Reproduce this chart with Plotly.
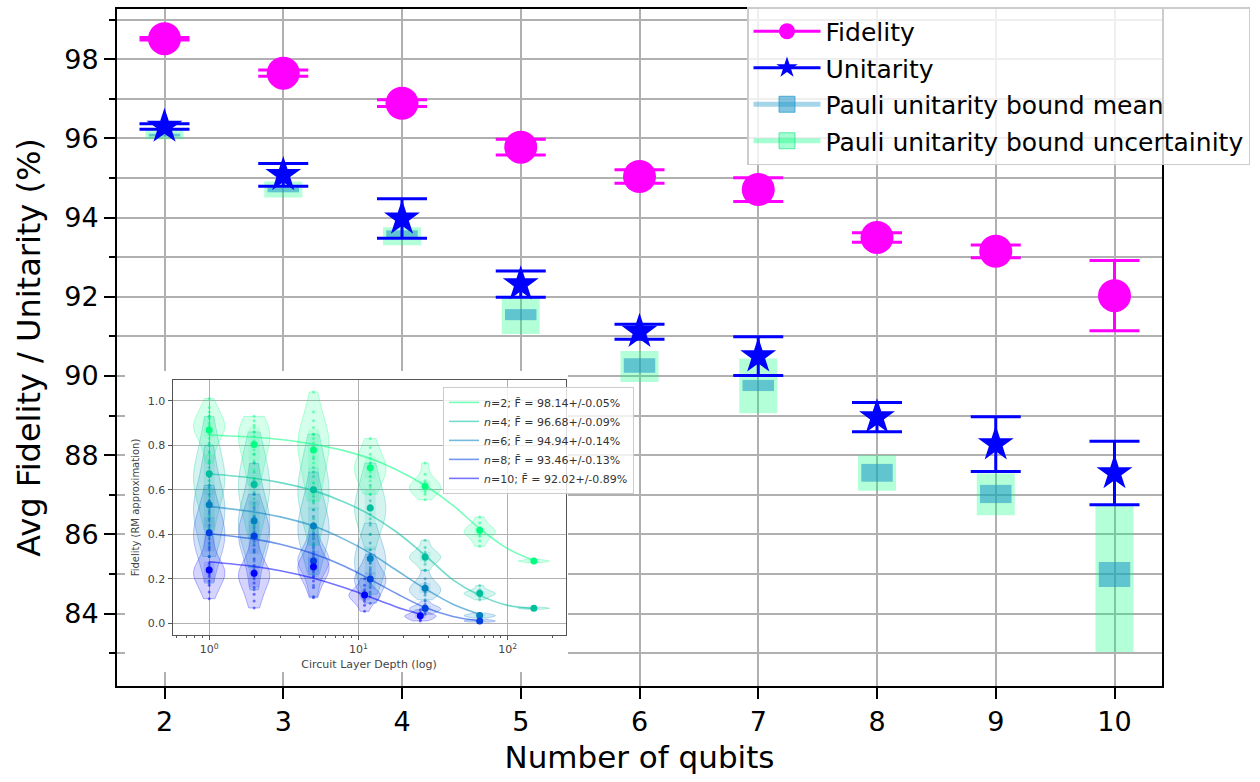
import numpy as np
import plotly.graph_objects as go

# ---- main panel data -------------------------------------------------------
qubits = [2, 3, 4, 5, 6, 7, 8, 9, 10]
fidelity = [98.52, 97.65, 96.89, 95.78, 95.04, 94.71, 93.50, 93.15, 92.03]
fidelity_err = [0.03, 0.08, 0.085, 0.20, 0.17, 0.30, 0.12, 0.16, 0.89]
unitarity = [96.30, 95.08, 93.98, 92.32, 91.12, 90.50, 88.96, 88.28, 87.55]
unitarity_err = [0.07, 0.29, 0.50, 0.33, 0.19, 0.49, 0.37, 0.69, 0.80]
bound_mean_lo = [96.05, 94.64, 93.50, 91.41, 90.08, 89.62, 87.33, 86.79, 84.67]
bound_mean_hi = [96.12, 94.76, 93.68, 91.69, 90.45, 89.90, 87.78, 87.25, 85.30]
bound_unc_lo = [95.98, 94.51, 93.30, 91.06, 89.85, 89.06, 87.10, 86.48, 83.03]
bound_unc_hi = [96.22, 94.91, 93.76, 91.97, 90.63, 90.44, 88.00, 87.54, 86.75]

# ---- inset data: per-depth fidelity samples for each register size ---------
inset_n = [2, 4, 6, 8, 10]
inset_fbar = ["98.14+/-0.05%", "96.68+/-0.09%", "94.94+/-0.14%",
              "93.46+/-0.13%", "92.02+/-0.89%"]

depths_n2 = [1, 2, 5, 12, 28, 65, 150]
depths_n4 = [1, 2, 5, 12, 28, 65, 150]
depths_n6 = [1, 2, 5, 12, 28, 65]
depths_n8 = [1, 2, 5, 12, 28, 65]
depths_n10 = [1, 2, 5, 11, 26]

means_n2 = [0.869, 0.803, 0.779, 0.699, 0.616, 0.418, 0.279]
means_n4 = [0.672, 0.624, 0.600, 0.518, 0.298, 0.134, 0.067]
means_n6 = [0.533, 0.460, 0.437, 0.291, 0.157, 0.034]
means_n8 = [0.406, 0.392, 0.280, 0.198, 0.067, 0.010]
means_n10 = [0.239, 0.224, 0.254, 0.127, 0.033]

samples_n2 = [
    [1.01, 0.97, 0.95, 0.93, 0.92, 0.90, 0.89, 0.88, 0.87, 0.86, 0.85, 0.83, 0.80, 0.76, 0.72],
    [0.93, 0.91, 0.89, 0.88, 0.86, 0.84, 0.82, 0.80, 0.78, 0.76, 0.73, 0.69, 0.65, 0.62],
    [1.04, 0.95, 0.91, 0.88, 0.85, 0.83, 0.81, 0.79, 0.77, 0.75, 0.72, 0.68, 0.63, 0.58, 0.55],
    [0.83, 0.79, 0.76, 0.74, 0.72, 0.70, 0.69, 0.68, 0.66, 0.64, 0.61, 0.58],
    [0.72, 0.67, 0.64, 0.63, 0.62, 0.61, 0.60, 0.59, 0.58, 0.555],
    [0.477, 0.45, 0.43, 0.42, 0.415, 0.41, 0.40, 0.39, 0.37, 0.346],
    [0.288, 0.283, 0.281, 0.279, 0.278, 0.276, 0.272],
]
samples_n4 = [
    [0.93, 0.86, 0.81, 0.77, 0.73, 0.70, 0.68, 0.66, 0.64, 0.62, 0.60, 0.57, 0.53, 0.48, 0.42],
    [0.86, 0.80, 0.76, 0.72, 0.68, 0.65, 0.63, 0.61, 0.59, 0.56, 0.53, 0.49, 0.44, 0.38],
    [0.85, 0.79, 0.74, 0.70, 0.66, 0.63, 0.61, 0.59, 0.57, 0.54, 0.51, 0.47, 0.42, 0.35],
    [0.72, 0.66, 0.62, 0.58, 0.55, 0.53, 0.51, 0.49, 0.47, 0.44, 0.40, 0.33],
    [0.373, 0.34, 0.32, 0.31, 0.30, 0.295, 0.29, 0.28, 0.265, 0.238],
    [0.169, 0.15, 0.14, 0.137, 0.134, 0.13, 0.125, 0.118, 0.105],
    [0.072, 0.069, 0.068, 0.067, 0.066, 0.064, 0.062],
]
samples_n6 = [
    [0.80, 0.72, 0.66, 0.61, 0.58, 0.55, 0.53, 0.51, 0.49, 0.46, 0.43, 0.39, 0.35, 0.30],
    [0.72, 0.64, 0.58, 0.54, 0.51, 0.48, 0.46, 0.44, 0.42, 0.39, 0.36, 0.32, 0.25],
    [0.68, 0.60, 0.55, 0.51, 0.48, 0.45, 0.43, 0.41, 0.39, 0.36, 0.33, 0.28, 0.22],
    [0.45, 0.40, 0.36, 0.33, 0.31, 0.29, 0.27, 0.25, 0.23, 0.20, 0.17, 0.13],
    [0.238, 0.20, 0.18, 0.17, 0.16, 0.15, 0.14, 0.135, 0.125, 0.105],
    [0.045, 0.04, 0.037, 0.035, 0.033, 0.031, 0.028, 0.024],
]
samples_n8 = [
    [0.62, 0.55, 0.50, 0.47, 0.44, 0.42, 0.40, 0.38, 0.36, 0.33, 0.30, 0.26, 0.18],
    [0.58, 0.52, 0.48, 0.45, 0.43, 0.41, 0.39, 0.37, 0.35, 0.32, 0.28, 0.22, 0.15],
    [0.44, 0.38, 0.34, 0.32, 0.30, 0.29, 0.28, 0.27, 0.26, 0.24, 0.21, 0.17, 0.12],
    [0.31, 0.27, 0.24, 0.22, 0.21, 0.20, 0.19, 0.18, 0.16, 0.14, 0.12, 0.09],
    [0.10, 0.085, 0.075, 0.07, 0.067, 0.064, 0.06, 0.055, 0.048, 0.04],
    [0.018, 0.014, 0.012, 0.01, 0.009, 0.007, 0.005],
]
samples_n10 = [
    [0.40, 0.34, 0.30, 0.27, 0.25, 0.24, 0.23, 0.22, 0.21, 0.19, 0.17, 0.14, 0.11],
    [0.40, 0.33, 0.29, 0.26, 0.24, 0.23, 0.22, 0.21, 0.20, 0.18, 0.16, 0.13, 0.10, 0.068],
    [0.40, 0.35, 0.31, 0.29, 0.27, 0.26, 0.25, 0.24, 0.23, 0.21, 0.19, 0.16, 0.114],
    [0.20, 0.17, 0.15, 0.14, 0.13, 0.125, 0.12, 0.11, 0.10, 0.08, 0.053],
    [0.06, 0.048, 0.04, 0.036, 0.033, 0.03, 0.027, 0.022, 0.015, 0.01],
]

# fitted decay curves, sampled along depth
curve_depth_n2 = [1, 2, 3, 5, 8, 12, 18, 28, 43, 65, 100, 150]
curve_fit_n2 = [0.846, 0.836, 0.826, 0.805, 0.776, 0.740, 0.690, 0.619, 0.530, 0.425, 0.335, 0.282]
curve_depth_n4 = [1, 2, 3, 5, 8, 12, 18, 28, 43, 65, 100, 150]
curve_fit_n4 = [0.672, 0.652, 0.632, 0.596, 0.545, 0.487, 0.410, 0.305, 0.195, 0.125, 0.080, 0.066]
curve_depth_n6 = [1, 2, 3, 5, 8, 12, 18, 28, 43, 65]
curve_fit_n6 = [0.525, 0.500, 0.478, 0.437, 0.378, 0.315, 0.238, 0.155, 0.085, 0.040]
curve_depth_n8 = [1, 2, 3, 5, 8, 12, 18, 28, 43, 65]
curve_fit_n8 = [0.402, 0.378, 0.355, 0.312, 0.257, 0.197, 0.133, 0.070, 0.030, 0.010]
curve_depth_n10 = [1, 2, 3, 5, 8, 11, 16, 20, 26]
curve_fit_n10 = [0.276, 0.255, 0.236, 0.202, 0.160, 0.127, 0.086, 0.062, 0.040]

inset_depths = [depths_n2, depths_n4, depths_n6, depths_n8, depths_n10]
inset_means = [means_n2, means_n4, means_n6, means_n8, means_n10]
inset_samples = [samples_n2, samples_n4, samples_n6, samples_n8, samples_n10]
inset_curve_x = [curve_depth_n2, curve_depth_n4, curve_depth_n6, curve_depth_n8, curve_depth_n10]
inset_curve_y = [curve_fit_n2, curve_fit_n4, curve_fit_n6, curve_fit_n8, curve_fit_n10]

# winter colormap, reversed: green for small registers, blue for large
inset_rgb = [(0, 255, 128), (0, 191, 159), (0, 128, 191), (0, 64, 223), (0, 0, 255)]


def rgba(c, a):
    return f"rgba({c[0]},{c[1]},{c[2]},{a})"


# ---- geometry (pixels of the 1260x782 canvas) ------------------------------
W, H = 1260, 782
PL, PR, PT, PB = 117, 1162, 7, 686


def fx(px):
    return (px - PL) / (PR - PL)


def fy(py):
    return (PB - py) / (PB - PT)


FONT = "DejaVu Sans"
GRID = "#b0b0b0"
TEAL = (30, 150, 200)
SPRING = (0, 255, 127)

fig = go.Figure()

# Pauli unitarity bound: uncertainty band and mean band drawn as floating bars
fig.add_trace(go.Bar(
    x=qubits, y=[h - l for h, l in zip(bound_unc_hi, bound_unc_lo)], base=bound_unc_lo,
    width=0.32, marker=dict(color=rgba(SPRING, 0.3), line=dict(width=0)),
    showlegend=False, hoverinfo="skip"))
fig.add_trace(go.Bar(
    x=qubits, y=[h - l for h, l in zip(bound_mean_hi, bound_mean_lo)], base=bound_mean_lo,
    width=0.265, marker=dict(color=rgba(TEAL, 0.55), line=dict(width=0)),
    showlegend=False, hoverinfo="skip"))

fig.add_trace(go.Scatter(
    x=qubits, y=fidelity, mode="markers",
    marker=dict(symbol="circle", size=33, color="#ff00ff"),
    error_y=dict(type="data", array=fidelity_err, color="#ff00ff", thickness=3, width=25),
    showlegend=False, hoverinfo="skip"))
fig.add_trace(go.Scatter(
    x=qubits, y=unitarity, mode="markers",
    marker=dict(symbol="star", size=27, color="#0000ff"),
    error_y=dict(type="data", array=unitarity_err, color="#0000ff", thickness=3, width=25),
    showlegend=False, hoverinfo="skip"))

# legend entries
legend_specs = [
    ("Fidelity", dict(color="#ff00ff", width=3), dict(symbol="circle", size=33, color="#ff00ff")),
    ("Unitarity", dict(color="#0000ff", width=3), dict(symbol="star", size=32, color="#0000ff")),
    ("Pauli unitarity bound mean", dict(color=rgba(TEAL, 0.4), width=5),
     dict(symbol="square", size=20, color=rgba(TEAL, 0.55), line=dict(color=rgba(TEAL, 0.7), width=1))),
    ("Pauli unitarity bound uncertainity", dict(color=rgba(SPRING, 0.35), width=5),
     dict(symbol="square", size=20, color=rgba(SPRING, 0.35), line=dict(color=rgba((0, 220, 120), 0.6), width=1))),
]
for i, (name, ln, mk) in enumerate(legend_specs):
    fig.add_trace(go.Scatter(x=[None], y=[None], mode="lines+markers", name=name,
                             line=ln, marker=mk, legendgroup=f"g{i}", legend="legend"))

# white backing panel behind the inset (its own, invisible subplot)
fig.add_trace(go.Scatter(x=[], y=[], xaxis="x2", yaxis="y2", showlegend=False, hoverinfo="skip"))

# ---- inset --------------------------------------------------------------
# one violin per (register size, depth); each gets its own scale group so
# every violin reaches the same maximum width
for k in range(len(inset_n) - 1, -1, -1):
    c = inset_rgb[k]
    for d, s in zip(inset_depths[k], inset_samples[k]):
        fig.add_trace(go.Violin(
            x=[np.log10(d)] * len(s), y=s, xaxis="x3", yaxis="y3",
            width=0.21, scalemode="width", scalegroup=f"n{inset_n[k]}d{d}",
            spanmode="hard", fillcolor=rgba(c, 0.17), line=dict(color=rgba(c, 0.28), width=1),
            points="all", jitter=0, pointpos=0,
            marker=dict(size=3, color=rgba(c, 0.5), line=dict(width=0)),
            box=dict(visible=True, width=0.35, fillcolor=rgba(c, 0.12), line=dict(width=0)),
            meanline=dict(visible=False), showlegend=False, hoverinfo="skip"))

for k, n in enumerate(inset_n):
    c = inset_rgb[k]
    fig.add_trace(go.Scatter(
        x=np.log10(inset_curve_x[k]), y=inset_curve_y[k], mode="lines",
        line=dict(color=rgba(c, 0.55), width=1.6, shape="spline"),
        xaxis="x3", yaxis="y3", legend="legend2",
        name=f"<i>n</i>={n}; F\u0304 = {inset_fbar[k]}", hoverinfo="skip"))

for k in range(len(inset_n)):
    c = inset_rgb[k]
    fig.add_trace(go.Scatter(
        x=np.log10(inset_depths[k]), y=inset_means[k], mode="markers",
        marker=dict(size=7, color=rgba(c, 1)), xaxis="x3", yaxis="y3",
        showlegend=False, hoverinfo="skip"))

minor_depths = [0.6, 0.7, 0.8, 0.9, 2, 3, 4, 5, 6, 7, 8, 9,
                20, 30, 40, 50, 60, 70, 80, 90, 200]

fig.update_layout(
    width=W, height=H, autosize=False,
    margin=dict(l=PL, r=W - PR, t=PT, b=H - PB, pad=0),
    paper_bgcolor="white", plot_bgcolor="white",
    font=dict(family=FONT, color="black"),
    barmode="overlay", violinmode="overlay", violingap=0, violingroupgap=0,
    xaxis=dict(
        range=[1.6, 10.4], tickvals=qubits, ticks="outside", ticklen=11, tickwidth=2,
        tickcolor="black", tickfont=dict(size=27), showline=True, linecolor="black",
        linewidth=2, mirror=True, showgrid=True, gridcolor=GRID, gridwidth=2, zeroline=False,
        title=dict(text="Number of qubits", font=dict(size=31), standoff=10)),
    yaxis=dict(
        range=[82.17, 99.27], tick0=84, dtick=2, ticks="outside", ticklen=11, tickwidth=2,
        tickcolor="black", tickfont=dict(size=27), showline=True, linecolor="black",
        linewidth=2, mirror=True, showgrid=True, gridcolor=GRID, gridwidth=2, zeroline=False,
        minor=dict(dtick=1, ticks="outside", ticklen=6, tickwidth=2, tickcolor="black",
                   showgrid=True, gridcolor=GRID, gridwidth=2),
        title=dict(text="Avg Fidelity / Unitarity (%)", font=dict(size=32), standoff=14)),
    xaxis2=dict(domain=[fx(125), fx(568)], anchor="y2", visible=False, range=[0, 1]),
    yaxis2=dict(domain=[fy(672), fy(370)], anchor="x2", visible=False, range=[0, 1]),
    xaxis3=dict(
        domain=[fx(172.5), fx(565.5)], anchor="y3", range=[-0.246, 2.388],
        tickvals=[0, 1, 2], ticktext=["10<sup>0</sup>", "10<sup>1</sup>", "10<sup>2</sup>"],
        ticks="outside", ticklen=4, tickwidth=1, tickcolor="#555",
        tickfont=dict(size=11, color="#444"),
        minor=dict(tickvals=list(np.log10(minor_depths)), ticks="outside", ticklen=2,
                   tickwidth=1, tickcolor="#555", showgrid=False),
        showline=True, linecolor="#555", linewidth=1, mirror=True,
        showgrid=True, gridcolor=GRID, gridwidth=1, zeroline=False,
        title=dict(text="Circuit Layer Depth (log)", font=dict(size=11, color="#444"), standoff=4)),
    yaxis3=dict(
        domain=[fy(635), fy(379)], anchor="x3", range=[-0.054, 1.094],
        tickvals=[0, 0.2, 0.4, 0.6, 0.8, 1.0], ticktext=["0.0", "0.2", "0.4", "0.6", "0.8", "1.0"],
        ticks="outside", ticklen=4, tickwidth=1, tickcolor="#555",
        tickfont=dict(size=11, color="#444"),
        showline=True, linecolor="#555", linewidth=1, mirror=True,
        showgrid=True, gridcolor=GRID, gridwidth=1, zeroline=False,
        title=dict(text="Fidelity (RM approximation)", font=dict(size=10, color="#444"), standoff=6)),
    legend=dict(
        x=fx(747), y=fy(5), xanchor="left", yanchor="top",
        font=dict(size=25, family=FONT), bgcolor="rgba(255,255,255,0.8)",
        bordercolor="#cccccc", borderwidth=1.5, itemwidth=67, itemsizing="trace",
        traceorder="grouped", tracegroupgap=1),
    legend2=dict(
        x=fx(443), y=fy(386), xanchor="left", yanchor="top",
        font=dict(size=11, family=FONT, color="#333"), bgcolor="rgba(255,255,255,0.8)",
        bordercolor="#cccccc", borderwidth=1, itemwidth=30, tracegroupgap=0),
)

fig.write_html("out.html")
